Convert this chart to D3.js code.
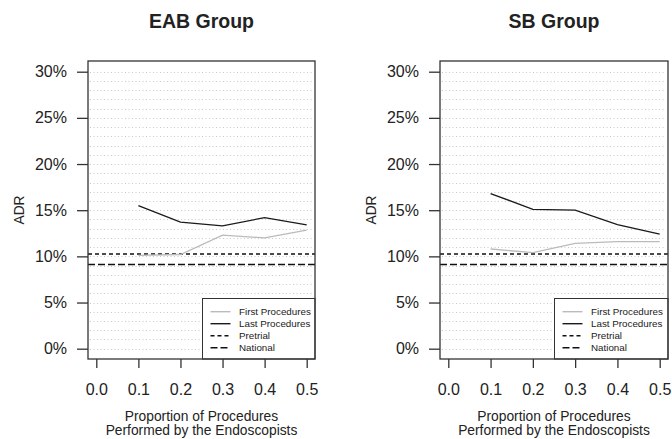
<!DOCTYPE html>
<html>
<head>
<meta charset="utf-8">
<script src="https://cdn.jsdelivr.net/npm/d3@7"></script>
<style>
  body { margin: 0; background: #fff; }
  svg { display: block; font-family: 'Liberation Sans', Arial, sans-serif; }
</style>
</head>
<body>
<div id="chart"></div>
<script>
const width = 672
const height = 439

const proportions = [0.1, 0.2, 0.3, 0.4, 0.5]
const xTicks = [0.0, 0.1, 0.2, 0.3, 0.4, 0.5]
const yTicks = [0, 5, 10, 15, 20, 25, 30]

const eabFirst = [10.1, 10.2, 12.3, 12.0, 12.85]
const eabLast = [15.5, 13.7, 13.3, 14.2, 13.4]
const sbFirst = [10.8, 10.4, 11.4, 11.6, 11.6]
const sbLast = [16.8, 15.1, 15.0, 13.45, 12.4]
const pretrial = 10.25
const national = 9.13

const legendLabels = ['First Procedures', 'Last Procedures', 'Pretrial', 'National']

const panels = [
  { title: 'EAB Group', first: eabFirst, last: eabLast, left: 88, right: 315 },
  { title: 'SB Group', first: sbFirst, last: sbLast, left: 440, right: 668 }
]

const boxTop = 61
const boxBottom = 359

const svg = d3
  .select('#chart')
  .append('svg')
  .attr('width', width)
  .attr('height', height)

const y = d3.scaleLinear().domain([0, 30]).range([348.7, 71.7])

panels.forEach((p) => {
  const g = svg.append('g')
  const x = d3
    .scaleLinear()
    .domain([0, 0.5])
    .range([p.left + 8.3, p.right - 8.3])

  // dotted grid every 1%
  g.selectAll('line.grid')
    .data(d3.range(0, 31))
    .join('line')
    .attr('class', 'grid')
    .attr('x1', p.left + 2)
    .attr('x2', p.right - 2)
    .attr('y1', (d) => Math.round(y(d)) + 0.5)
    .attr('y2', (d) => Math.round(y(d)) + 0.5)
    .attr('stroke', '#c8c8c8')
    .attr('stroke-width', 1)
    .attr('stroke-dasharray', '1,2.5')

  // reference lines
  g.append('line')
    .attr('x1', p.left)
    .attr('x2', p.right)
    .attr('y1', y(pretrial))
    .attr('y2', y(pretrial))
    .attr('stroke', '#111')
    .attr('stroke-width', 1.5)
    .attr('stroke-dasharray', '4,3')

  g.append('line')
    .attr('x1', p.left)
    .attr('x2', p.right)
    .attr('y1', y(national))
    .attr('y2', y(national))
    .attr('stroke', '#111')
    .attr('stroke-width', 1.5)
    .attr('stroke-dasharray', '7,3')

  const line = d3
    .line()
    .x((d, i) => x(proportions[i]))
    .y((d) => y(d))

  g.append('path')
    .datum(p.first)
    .attr('d', line)
    .attr('fill', 'none')
    .attr('stroke', '#bbbbbb')
    .attr('stroke-width', 1.3)

  g.append('path')
    .datum(p.last)
    .attr('d', line)
    .attr('fill', 'none')
    .attr('stroke', '#1a1a1a')
    .attr('stroke-width', 1.3)

  // legend
  const lx = p.left + 114.5
  const ly = 298.5
  g.append('rect')
    .attr('x', lx)
    .attr('y', ly)
    .attr('width', p.right - lx)
    .attr('height', boxBottom - ly)
    .attr('fill', '#fff')
    .attr('stroke', '#333')
    .attr('stroke-width', 1)

  const legStyles = [
    { stroke: '#bbbbbb', dash: null },
    { stroke: '#1a1a1a', dash: null },
    { stroke: '#111', dash: '4,3' },
    { stroke: '#111', dash: '7,3' }
  ]
  legendLabels.forEach((lab, i) => {
    const yy = 311.7 + i * 12
    g.append('line')
      .attr('x1', lx + 8)
      .attr('x2', lx + 28)
      .attr('y1', yy)
      .attr('y2', yy)
      .attr('stroke', legStyles[i].stroke)
      .attr('stroke-width', 1.4)
      .attr('stroke-dasharray', legStyles[i].dash)
    g.append('text')
      .attr('x', lx + 36.5)
      .attr('y', yy)
      .attr('dy', '0.35em')
      .attr('font-size', 9.8)
      .attr('fill', '#222')
      .text(lab)
  })

  // box
  g.append('rect')
    .attr('x', p.left)
    .attr('y', boxTop)
    .attr('width', p.right - p.left)
    .attr('height', boxBottom - boxTop)
    .attr('fill', 'none')
    .attr('stroke', '#333')
    .attr('stroke-width', 1.3)

  // y axis
  const yAxis = g
    .append('g')
    .attr('transform', `translate(${p.left},0)`)
    .call(
      d3
        .axisLeft(y)
        .tickValues(yTicks)
        .tickSize(11)
        .tickPadding(10)
        .tickFormat((d) => d + '%')
    )
  yAxis.select('.domain').remove()
  yAxis.selectAll('line').attr('stroke', '#333').attr('stroke-width', 1.3)
  yAxis
    .selectAll('text')
    .attr('font-size', 16)
    .attr('font-family', "'Liberation Sans', Arial, sans-serif")
    .attr('fill', '#222')

  // x axis
  const xAxis = g
    .append('g')
    .attr('transform', `translate(0,${boxBottom})`)
    .call(
      d3
        .axisBottom(x)
        .tickValues(xTicks)
        .tickSize(9)
        .tickPadding(16)
        .tickFormat(d3.format('.1f'))
    )
  xAxis.select('.domain').remove()
  xAxis.selectAll('line').attr('stroke', '#333').attr('stroke-width', 1.3)
  xAxis
    .selectAll('text')
    .attr('font-size', 16)
    .attr('font-family', "'Liberation Sans', Arial, sans-serif")
    .attr('fill', '#222')

  const cx = (p.left + p.right) / 2
  g.append('text')
    .attr('x', cx)
    .attr('y', 28)
    .attr('text-anchor', 'middle')
    .attr('font-size', 19.5)
    .attr('font-weight', 'bold')
    .attr('fill', '#222')
    .text(p.title)

  g.append('text')
    .attr('x', cx)
    .attr('y', 420.5)
    .attr('text-anchor', 'middle')
    .attr('font-size', 13.8)
    .attr('fill', '#222')
    .text('Proportion of Procedures')
  g.append('text')
    .attr('x', cx)
    .attr('y', 435)
    .attr('text-anchor', 'middle')
    .attr('font-size', 13.8)
    .attr('fill', '#222')
    .text('Performed by the Endoscopists')

  g.append('text')
    .attr('transform', `translate(${p.left - 64},${(boxTop + boxBottom) / 2}) rotate(-90)`)
    .attr('text-anchor', 'middle')
    .attr('font-size', 13.8)
    .attr('fill', '#222')
    .text('ADR')
})
</script>
</body>
</html>
